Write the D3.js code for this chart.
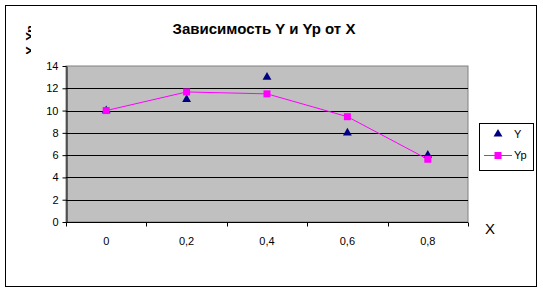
<!DOCTYPE html>
<html lang="ru">
<head>
<meta charset="UTF-8">
<title>Зависимость Y и Yp от X</title>
<script src="https://d3js.org/d3.v7.min.js"></script>
<style>
  body { margin:0; background:#fff; }
  svg { display:block; font-family:"Liberation Sans", Arial, sans-serif; }
</style>
</head>
<body>
<script>
// data
const categories = ["0", "0,2", "0,4", "0,6", "0,8"];
const yValues  = [10, 11, 13, 8, 6];
const ypValues = [10, 11.67, 11.5, 9.45, 5.63];
const yTicks   = [0, 2, 4, 6, 8, 10, 12, 14];

const W = 543, H = 292;
const plot = {left: 66, right: 468, top: 66, bottom: 222};

const svg = d3.select("body").append("svg")
  .attr("width", W).attr("height", H);

// outer frame
svg.append("rect")
  .attr("x", 5.5).attr("y", 5.5).attr("width", 531).attr("height", 281)
  .attr("fill", "#fff").attr("stroke", "#000");

const x = d3.scaleBand().domain(categories).range([plot.left, plot.right]);
const y = d3.scaleLinear().domain([0, 14]).range([plot.bottom, plot.top]);

// plot area
svg.append("rect")
  .attr("x", plot.left).attr("y", plot.top)
  .attr("width", plot.right - plot.left).attr("height", plot.bottom - plot.top)
  .attr("fill", "#c0c0c0").attr("stroke", "#808080");

// gridlines
svg.append("g").selectAll("line")
  .data(yTicks.filter(d => d > 0 && d < 14))
  .join("line")
    .attr("x1", plot.left).attr("x2", plot.right)
    .attr("y1", d => Math.round(y(d)) + 0.5).attr("y2", d => Math.round(y(d)) + 0.5)
    .attr("stroke", "#000");

// y axis
const yAxis = svg.append("g")
  .attr("transform", `translate(${plot.left + 0.5},0)`)
  .call(d3.axisLeft(y).tickValues(yTicks).tickSize(4).tickPadding(4).tickSizeOuter(0));
yAxis.select(".domain").attr("stroke", "#000");
yAxis.selectAll("text").attr("font-size", 11).attr("font-family", "Liberation Sans, Arial, sans-serif").attr("fill", "#000");

// x axis: ticks between categories, labels centred
const xAxis = svg.append("g")
  .attr("transform", `translate(0,${plot.bottom + 0.5})`);
xAxis.append("line")
  .attr("x1", plot.left).attr("x2", plot.right)
  .attr("stroke", "#000");
const bounds = categories.map(c => x(c)).concat([plot.right]);
xAxis.selectAll("line.tk").data(bounds).join("line")
  .attr("class", "tk")
  .attr("x1", d => Math.round(d) + 0.5).attr("x2", d => Math.round(d) + 0.5)
  .attr("y1", 0).attr("y2", 4).attr("stroke", "#000");
xAxis.selectAll("text").data(categories).join("text")
  .attr("x", d => x(d) + x.bandwidth() / 2)
  .attr("y", 22)
  .attr("text-anchor", "middle")
  .attr("font-size", 11)
  .text(d => d);

const cx = (d, i) => x(categories[i]) + x.bandwidth() / 2;

// Yp line
svg.append("path")
  .datum(ypValues)
  .attr("fill", "none")
  .attr("stroke", "#ff00ff")
  .attr("stroke-width", 1)
  .attr("d", d3.line().x(cx).y(d => y(d)));

// Y triangles
const tri = d3.symbol().type(d3.symbolTriangle).size(34);
svg.append("g").selectAll("path")
  .data(yValues)
  .join("path")
    .attr("d", tri)
    .attr("transform", (d, i) => `translate(${cx(d, i)},${y(d)})`)
    .attr("fill", "#000080");

// Yp squares
svg.append("g").selectAll("rect")
  .data(ypValues)
  .join("rect")
    .attr("x", (d, i) => cx(d, i) - 3.5)
    .attr("y", d => y(d) - 3.5)
    .attr("width", 7).attr("height", 7)
    .attr("fill", "#ff00ff");

// title
svg.append("text")
  .attr("x", 264).attr("y", 34)
  .attr("text-anchor", "middle")
  .attr("font-size", 15).attr("font-weight", "bold")
  .text("Зависимость Y и Yp от X");

// y axis title (partly clipped as in the original)
svg.append("clipPath").attr("id", "yclip")
  .append("rect").attr("x", 25).attr("y", 26).attr("width", 6).attr("height", 28);
svg.append("g")
  .attr("clip-path", "url(#yclip)")
  .append("text")
    .attr("transform", "translate(35,40) rotate(-90)")
    .attr("text-anchor", "middle")
    .attr("font-size", 13).attr("font-weight", "bold")
    .text("(Y, Yp)");

// x axis title
svg.append("text")
  .attr("x", 490).attr("y", 234)
  .attr("text-anchor", "middle")
  .attr("font-size", 15)
  .text("X");

// legend
const lg = svg.append("g");
lg.append("rect")
  .attr("x", 479.5).attr("y", 123.5).attr("width", 54).attr("height", 47)
  .attr("fill", "#fff").attr("stroke", "#000");
lg.append("path")
  .attr("d", tri)
  .attr("transform", "translate(498,134)")
  .attr("fill", "#000080");
lg.append("text").attr("x", 514).attr("y", 138).attr("font-size", 11).text("Y");
lg.append("line")
  .attr("x1", 484).attr("x2", 512).attr("y1", 155.5).attr("y2", 155.5)
  .attr("stroke", "#ff00ff");
lg.append("rect")
  .attr("x", 494.5).attr("y", 152).attr("width", 7).attr("height", 7)
  .attr("fill", "#ff00ff");
lg.append("text").attr("x", 514).attr("y", 159).attr("font-size", 11).text("Yp");
</script>
</body>
</html>
